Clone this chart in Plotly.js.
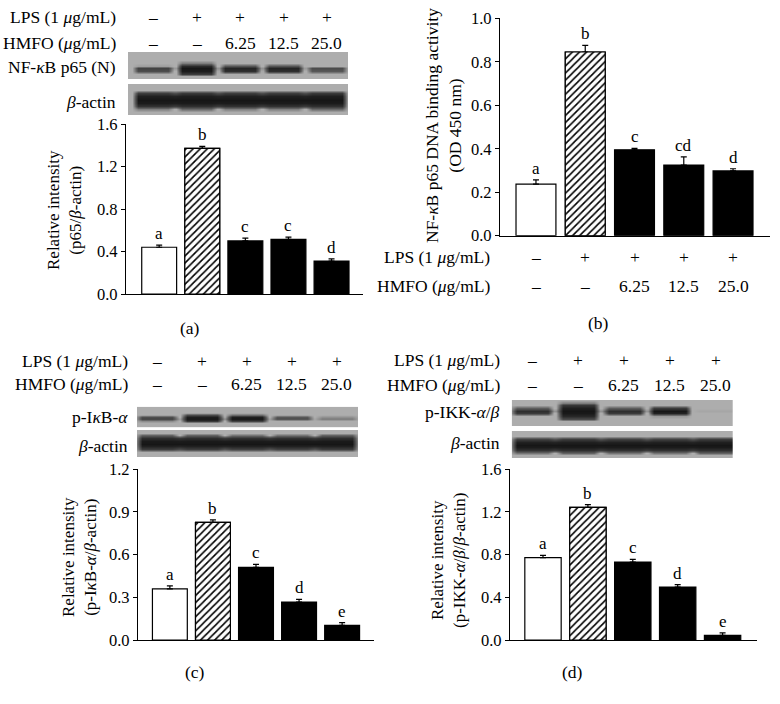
<!DOCTYPE html>
<html>
<head>
<meta charset="utf-8">
<script src="https://cdn.plot.ly/plotly-3.0.1.min.js"></script>
<style>html,body{margin:0;padding:0;background:#fff}#chart{width:780px;height:704px}</style>
</head>
<body>
<div id="chart"></div>
<script>
// ---------- data ----------
const groups = ['Control', 'LPS', 'LPS+HMFO 6.25', 'LPS+HMFO 12.5', 'LPS+HMFO 25.0'];
const lpsLabels = ['–', '+', '+', '+', '+'];
const hmfoLabels = ['–', '–', '6.25', '12.5', '25.0'];

// (a) nuclear NF-kB p65 relative intensity
const aValues = [0.44, 1.37, 0.50, 0.515, 0.31];
const aErrors = [0.02, 0.02, 0.025, 0.02, 0.02];
const aLetters = ['a', 'b', 'c', 'c', 'd'];
// (b) NF-kB p65 DNA binding activity (OD 450 nm)
const bValues = [0.237, 0.845, 0.395, 0.325, 0.298];
const bErrors = [0.02, 0.03, 0.007, 0.038, 0.01];
const bLetters = ['a', 'b', 'c', 'cd', 'd'];
// (c) p-IkB-alpha relative intensity
const cValues = [0.36, 0.827, 0.511, 0.267, 0.103];
const cErrors = [0.02, 0.017, 0.021, 0.019, 0.019];
const cLetters = ['a', 'b', 'c', 'd', 'e'];
// (d) p-IKK-alpha/beta relative intensity
const dValues = [0.772, 1.244, 0.731, 0.497, 0.044];
const dErrors = [0.022, 0.025, 0.025, 0.022, 0.022];
const dLetters = ['a', 'b', 'c', 'd', 'e'];

// western blot band strengths per lane (read visually)
const bandP65 = [0.45, 1.05, 0.6, 0.6, 0.4];
const bandActinA = [0.85, 0.9, 0.85, 0.85, 0.9];
const bandIkB = [0.45, 0.9, 0.75, 0.4, 0.2];
const bandActinC = [0.9, 0.9, 0.85, 0.85, 0.9];
const bandIKK = [0.55, 1.6, 0.55, 0.7, 0.03];
const bandActinD = [0.85, 0.9, 0.85, 0.85, 0.9];

// ---------- helpers ----------
const FONT = 'Liberation Serif, Times New Roman, serif';
const W = 780, H = 704;
const px = v => v / W;
const py = v => 1 - v / H;
const fillColors = ['white', 'white', 'black', 'black', 'black'];

function barTraces(values, errors, xa, ya) {
  const main = {
    type: 'bar', x: groups, y: values, xaxis: xa, yaxis: ya, width: 0.81,
    marker: {color: fillColors, line: {color: 'black', width: 1.2}},
    error_y: {type: 'data', symmetric: false, array: errors, arrayminus: errors.map(() => 0),
              color: 'black', thickness: 1.2, width: 3},
    hoverinfo: 'y', showlegend: false
  };
  // hatched LPS-only bar drawn on top
  const hatch = {
    type: 'bar', x: [groups[1]], y: [values[1]], xaxis: xa, yaxis: ya, width: 0.81,
    marker: {color: 'white', line: {color: 'black', width: 1.2},
             pattern: {shape: '/', fgcolor: 'black', bgcolor: 'white', size: 5, solidity: 0.32, fillmode: 'replace'}},
    hoverinfo: 'y', showlegend: false
  };
  return [main, hatch];
}

function blotTrace(bands, center, gapFactor, thick, xa, ya) {
  const xs = [-1], colV = [0];
  for (let i = 0; i < bands.length; i++) {
    const left = i > 0 ? gapFactor * Math.min(bands[i], bands[i - 1]) : 0;
    const right = i < bands.length - 1 ? gapFactor * Math.min(bands[i], bands[i + 1]) : 0;
    xs.push(i - 0.48, i - 0.34, i + 0.34, i + 0.48);
    colV.push(left, bands[i], bands[i], right);
  }
  xs.push(5); colV.push(0);
  const ys = [];
  for (let k = 0; k <= 10; k++) ys.push(-1 + k * 0.2);
  const z = ys.map(y => colV.map(v => {
    const w = thick * (0.1 + 0.36 * Math.min(v, 1.8));
    const u = (y - center) / w;
    const prof = Math.max(0, 1 - u * u);
    return Math.min(1, 1.5 * v) * Math.sqrt(prof);
  }));
  return {
    type: 'heatmap', x: xs, y: ys, z: z, xaxis: xa, yaxis: ya, zmin: 0, zmax: 1, zsmooth: 'best',
    colorscale: [[0, '#adadad'], [0.45, '#5c5c5c'], [1, '#161616']], showscale: false, hoverinfo: 'skip'
  };
}

const traces = [].concat(
  barTraces(aValues, aErrors, 'x', 'y'),
  barTraces(bValues, bErrors, 'x2', 'y2'),
  barTraces(cValues, cErrors, 'x3', 'y3'),
  barTraces(dValues, dErrors, 'x4', 'y4'),
  [
    blotTrace(bandP65, -0.26, 0.2, 1.0, 'x5', 'y5'),
    blotTrace(bandActinA, -0.03, 0.85, 1.45, 'x5', 'y6'),
    blotTrace(bandIkB, -0.15, 0.2, 1.0, 'x6', 'y7'),
    blotTrace(bandActinC, 0.04, 0.85, 1.45, 'x6', 'y8'),
    blotTrace(bandIKK, 0.15, 0.2, 1.0, 'x7', 'y9'),
    blotTrace(bandActinD, -0.04, 0.85, 1.45, 'x7', 'y10')
  ]
);

function barX(domain, range, anchor) {
  return {domain: domain, range: range, anchor: anchor, showline: true, linecolor: 'black', linewidth: 1.2,
          ticks: '', showticklabels: false, showgrid: false, zeroline: false, fixedrange: true};
}
function barY(domain, range, dtick, anchor) {
  return {domain: domain, range: range, anchor: anchor, showline: true, linecolor: 'black', linewidth: 1.2,
          ticks: 'outside', ticklen: 4, tickwidth: 1, tickcolor: 'black', dtick: dtick, tick0: 0,
          tickformat: '.1f', tickfont: {family: FONT, size: 16.5, color: 'black'},
          showgrid: false, zeroline: false, fixedrange: true};
}
function hidden(domain, range, anchor) {
  return {domain: domain, range: range, anchor: anchor, visible: false, fixedrange: true};
}

const layout = {
  width: W, height: H, margin: {l: 0, r: 0, t: 0, b: 0},
  paper_bgcolor: 'white', plot_bgcolor: 'rgba(0,0,0,0)', showlegend: false,
  font: {family: FONT, size: 17, color: 'black'}, barmode: 'overlay',
  xaxis: barX([px(126), px(363)], [-0.77, 4.73], 'y'),
  yaxis: barY([py(294), py(124)], [0, 1.6], 0.4, 'x'),
  xaxis2: barX([px(500), px(770)], [-0.73, 4.75], 'y2'),
  yaxis2: barY([py(235.7), py(18.3)], [0, 1.0], 0.2, 'x2'),
  xaxis3: barX([px(138), px(374)], [-0.74, 4.74], 'y3'),
  yaxis3: barY([py(640), py(469.3)], [0, 1.2], 0.3, 'x3'),
  xaxis4: barX([px(510), px(756.7)], [-0.735, 4.76], 'y4'),
  yaxis4: barY([py(640), py(469.3)], [0, 1.6], 0.4, 'x4'),
  xaxis5: hidden([px(128), px(348)], [-0.575, 4.483], 'y5'),
  yaxis5: hidden([py(79), py(52)], [-1, 1], 'x5'),
  yaxis6: hidden([py(115), py(84)], [-1, 1], 'x5'),
  xaxis6: hidden([px(137), px(358)], [-0.444, 4.467], 'y7'),
  yaxis7: hidden([py(427.3), py(406.7)], [-1, 1], 'x6'),
  yaxis8: hidden([py(457), py(430)], [-1, 1], 'x6'),
  xaxis7: hidden([px(511.7), px(733)], [-0.441, 4.376], 'y9'),
  yaxis9: hidden([py(426.5), py(400)], [-1, 1], 'x7'),
  yaxis10: hidden([py(458), py(431)], [-1, 1], 'x7'),
  annotations: []
};

const ann = layout.annotations;
const HF = 17.5;
function addText(text, x, y, xanchor, opts, size) {
  ann.push(Object.assign({text: text, x: x, y: y, xref: 'paper', yref: 'paper', xanchor: xanchor, yanchor: 'middle',
    showarrow: false, font: {family: FONT, size: size || HF, color: 'black'}}, opts || {}));
}
// significance letters
function addLetters(values, errors, letters, xa, ya) {
  letters.forEach((t, i) => ann.push({text: t, x: groups[i], y: values[i] + errors[i], xref: xa, yref: ya,
    xanchor: 'center', yanchor: 'bottom', showarrow: false, font: {family: FONT, size: 17, color: 'black'}}));
}
addLetters(aValues, aErrors, aLetters, 'x', 'y');
addLetters(bValues, bErrors, bLetters, 'x2', 'y2');
addLetters(cValues, cErrors, cLetters, 'x3', 'y3');
addLetters(dValues, dErrors, dLetters, 'x4', 'y4');

// treatment headers
function addHeaders(labelRight, yLps, yHmfo, xref, useCats) {
  addText('LPS (1 <i>μ</i>g/mL)', px(labelRight), py(yLps), 'right');
  addText('HMFO (<i>μ</i>g/mL)', px(labelRight), py(yHmfo), 'right');
  for (let i = 0; i < 5; i++) {
    const xv = useCats ? groups[i] : i;
    ann.push({text: lpsLabels[i], x: xv, y: py(yLps), xref: xref, yref: 'paper', xanchor: 'center', yanchor: 'middle',
      showarrow: false, font: {family: FONT, size: HF, color: 'black'}});
    ann.push({text: hmfoLabels[i], x: xv, y: py(yHmfo), xref: xref, yref: 'paper', xanchor: 'center', yanchor: 'middle',
      showarrow: false, font: {family: FONT, size: HF, color: 'black'}});
  }
}
addHeaders(118, 17, 43, 'x5', false);
addHeaders(492, 257, 286, 'x2', true);
addHeaders(130, 361, 384, 'x6', false);
addHeaders(502, 360, 385, 'x7', false);

// blot labels
addText('NF-<i>κ</i>B p65 (N)', px(118), py(67), 'right');
addText('<i>β</i>-actin', px(118), py(102), 'right');
addText('p-I<i>κ</i>B-<i>α</i>', px(130), py(417), 'right');
addText('<i>β</i>-actin', px(130), py(446), 'right');
addText('p-IKK-<i>α</i>/<i>β</i>', px(502), py(412), 'right');
addText('<i>β</i>-actin', px(502), py(443), 'right');

// y-axis titles (rotated)
addText('Relative intensity<br>(p65/<i>β</i>-actin)', px(64), py(210), 'center', {textangle: -90}, 17);
addText('NF-<i>κ</i>B p65 DNA binding activity<br>(OD 450 nm)', px(444), py(126), 'center', {textangle: -90}, 17.5);
addText('Relative intensity<br>(p-I<i>κ</i>B-<i>α</i>/<i>β</i>-actin)', px(79), py(557), 'center', {textangle: -90}, 17);
addText('Relative intensity<br>(p-IKK-<i>α</i>/<i>β</i>/<i>β</i>-actin)', px(448), py(560), 'center', {textangle: -90}, 17);

// panel labels
addText('(a)', px(190), py(328), 'center');
addText('(b)', px(598), py(323), 'center');
addText('(c)', px(195), py(672), 'center');
addText('(d)', px(572), py(672), 'center');

Plotly.newPlot('chart', traces, layout, {staticPlot: true, displayModeBar: false});
</script>
</body>
</html>
